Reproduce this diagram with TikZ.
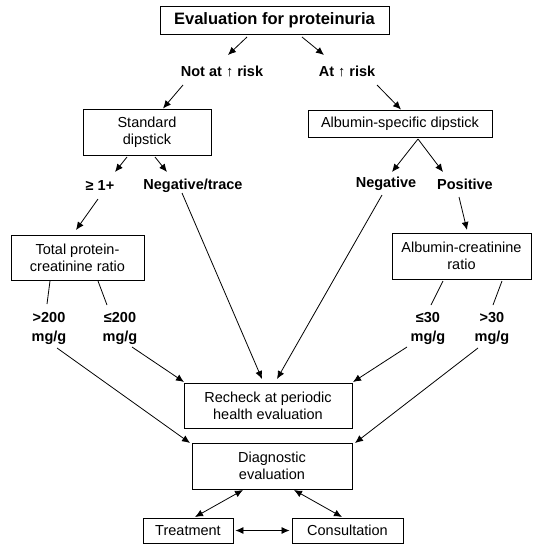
\documentclass[tikz,border=0pt]{standalone}
\usepackage{fontspec}
\setmainfont{Liberation Sans}
\usetikzlibrary{arrows.meta,calc}
\begin{document}
\begin{tikzpicture}[x=1pt,y=-1pt,
  box/.style={draw,line width=0.9pt,inner sep=0pt,align=center,font=\fontsize{14.5}{17}\selectfont},
  lab/.style={inner sep=0pt,align=center,font=\bfseries\fontsize{14.5}{19}\selectfont},
  arr/.style={line width=0.8pt,-{Latex[length=8pt,width=7pt]}},
  dbl/.style={line width=0.8pt,{Latex[length=8pt,width=7pt]}-{Latex[length=8pt,width=7pt]}},
  ln/.style={line width=0.8pt}]
\useasboundingbox (0,0) rectangle (534,544);
% boxes
\node[box,minimum width=229,minimum height=28,font=\bfseries\fontsize{16.5}{19}\selectfont] (top) at (274.5,20) {Evaluation for proteinuria};
\node[box,minimum width=128,minimum height=46] (std) at (147,132) {Standard\\dipstick};
\node[box,minimum width=184,minimum height=27] (alb) at (400,123.5) {Albumin-specific dipstick};
\node[box,minimum width=133,minimum height=45] (tpc) at (77.5,257.5) {Total protein-\\creatinine ratio};
\node[box,minimum width=139,minimum height=46] (acr) at (461.5,256) {Albumin-creatinine\\ratio};
\node[box,minimum width=168,minimum height=45] (recheck) at (268,405.5) {Recheck at periodic\\health evaluation};
\node[box,minimum width=160,minimum height=46] (diag) at (272,466) {Diagnostic\\evaluation};
\node[box,minimum width=90,minimum height=25] (treat) at (188,530.5) {Treatment};
\node[box,minimum width=111,minimum height=25] (consult) at (347.5,530.5) {Consultation};
% labels
\node[lab] (notrisk) at (222,71) {Not at ↑ risk};
\node[lab] (atrisk) at (347,71) {At ↑ risk};
\node[lab] (ge1) at (100,186) {≥ 1+};
\node[lab] (negtrace) at (193,186) {Negative/trace};
\node[lab] (neg) at (386,184) {Negative};
\node[lab] (pos) at (465,184) {Positive};
\node[lab] (gt200) at (49,328) {>200\\mg/g};
\node[lab] (le200) at (120,328) {≤200\\mg/g};
\node[lab] (le30) at (428,328) {≤30\\mg/g};
\node[lab] (gt30) at (492,328) {>30\\mg/g};
% connectors
\draw[arr] ($(top)+(-27.5,17)$) -- ($(notrisk)+(6,-16)$);
\draw[arr] ($(top)+(27.5,17)$) -- ($(atrisk)+(-23,-16)$);
\draw[arr] ($(notrisk)+(-39,14)$) -- ($(std)+(16,-23.5)$);
\draw[arr] ($(atrisk)+(30,14)$) -- ($(alb)+(1,-14)$);
\draw[arr] ($(std)+(-20,25)$) -- ($(ge1)+(15,-14)$);
\draw[arr] ($(std)+(8,25)$) -- ($(negtrace)+(-26,-14)$);
\draw[arr] ($(ge1)+(-2,13)$) -- ($(tpc)+(-1.5,-27.5)$);
\draw[arr] ($(negtrace)+(-11,7)$) -- ($(recheck)+(-6,-26.5)$);
\draw[arr] ($(alb)+(18,15.5)$) -- ($(neg)+(6,-12)$);
\draw[arr] ($(alb)+(18,15.5)$) -- ($(pos)+(-22,-12)$);
\draw[arr] ($(neg)+(-4,11)$) -- ($(recheck)+(9,-26.5)$);
\draw[arr] ($(pos)+(-6,13)$) -- ($(acr)+(5.5,-26)$);
\draw[ln] ($(tpc)+(-27.5,23.5)$) -- ($(gt200)+(-2,-24)$);
\draw[ln] ($(tpc)+(20.5,23.5)$) -- ($(le200)+(-13,-23)$);
\draw[ln] ($(acr)+(-18.5,25)$) -- ($(le30)+(3,-23)$);
\draw[ln] ($(acr)+(40.5,25)$) -- ($(gt30)+(1,-23)$);
\draw[arr] ($(le200)+(12,19)$) -- ($(recheck)+(-84,-23.5)$);
\draw[arr] ($(le30)+(-21,19)$) -- ($(recheck)+(85,-23.5)$);
\draw[arr] ($(gt200)+(8,20)$) -- ($(diag)+(-82,-23)$);
\draw[arr] ($(gt30)+(-14,20)$) -- ($(diag)+(83,-23)$);
\draw[dbl] ($(diag)+(-29,24)$) -- ($(treat)+(7,-13.5)$);
\draw[dbl] ($(diag)+(22,24)$) -- ($(consult)+(-5.5,-13.5)$);
\draw[dbl] ($(treat.east)+(2,0)$) -- ($(consult.west)+(-2,0)$);
\end{tikzpicture}
\end{document}
